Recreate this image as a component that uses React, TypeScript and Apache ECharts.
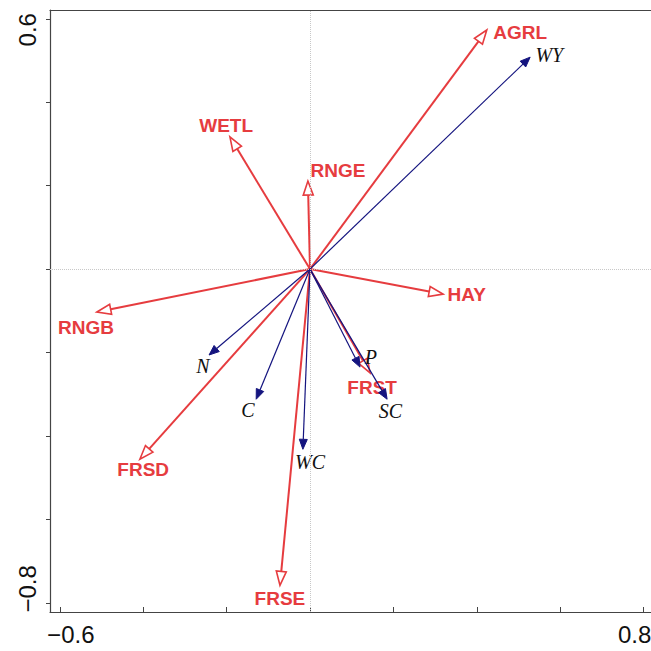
import React, { useEffect, useRef } from "react";
import * as echarts from "echarts";

// Environmental variables (red, open arrowheads)
const envNames = ["AGRL", "WETL", "RNGE", "HAY", "RNGB", "FRSD", "FRSE", "FRST"];
const envX = [0.424, -0.192, -0.005, 0.319, -0.511, -0.408, -0.072, 0.144];
const envY = [0.573, 0.317, 0.211, -0.06, -0.103, -0.456, -0.758, -0.249];
const envLabelX = [0.504, -0.201, 0.067, 0.376, -0.537, -0.4, -0.072, 0.149];
const envLabelY = [0.566, 0.343, 0.237, -0.062, -0.141, -0.48, -0.789, -0.283];

// Species / response variables (navy, filled arrowheads)
const spNames = ["WY", "N", "C", "WC", "P", "SC"];
const spX = [0.528, -0.242, -0.129, -0.017, 0.12, 0.185];
const spY = [0.508, -0.206, -0.312, -0.432, -0.235, -0.312];
const spLabelX = [0.574, -0.257, -0.149, 0.0, 0.146, 0.193];
const spLabelY = [0.513, -0.233, -0.338, -0.463, -0.211, -0.341];

const xTicks = [-0.6, -0.4, -0.2, 0, 0.2, 0.4, 0.6, 0.8];
const yTicks = [0.6, 0.4, 0.2, 0, -0.2, -0.4, -0.6, -0.8];
const xLabels = [-0.6, 0.8];
const yLabels = [0.6, -0.8];

const RED = "#e63c3f";
const NAVY = "#14147f";
const AXIS = "#444444";

const num = (v: number) => (v < 0 ? "\u2212" + Math.abs(v).toFixed(1) : v.toFixed(1));

function makeRender(names: string[], kind: "env" | "sp") {
  return (params: any, api: any) => {
    const x = api.value(0);
    const y = api.value(1);
    const lx = api.value(2);
    const ly = api.value(3);
    const o = api.coord([0, 0]);
    const t = api.coord([x, y]);
    const l = api.coord([lx, ly]);
    const dx = t[0] - o[0];
    const dy = t[1] - o[1];
    const len = Math.hypot(dx, dy) || 1;
    const ux = dx / len;
    const uy = dy / len;
    const nx = -uy;
    const ny = ux;
    const L = kind === "env" ? 14 : 10;
    const W = kind === "env" ? 5 : 4;
    const bx = t[0] - ux * L;
    const by = t[1] - uy * L;
    const color = kind === "env" ? RED : NAVY;
    return {
      type: "group",
      children: [
        {
          type: "line",
          shape: { x1: o[0], y1: o[1], x2: bx, y2: by },
          style: { stroke: color, lineWidth: kind === "env" ? 2 : 1.2 },
        },
        {
          type: "polygon",
          shape: {
            points: [
              [t[0], t[1]],
              [bx + nx * W, by + ny * W],
              [bx - nx * W, by - ny * W],
            ],
          },
          style:
            kind === "env"
              ? { fill: "#ffffff", stroke: color, lineWidth: 1.6 }
              : { fill: color, stroke: color, lineWidth: 1 },
        },
        {
          type: "text",
          x: l[0],
          y: l[1],
          style: {
            text: names[params.dataIndex],
            fill: kind === "env" ? RED : "#111111",
            fontSize: kind === "env" ? 19 : 20,
            fontWeight: kind === "env" ? "bold" : "normal",
            fontStyle: kind === "env" ? "normal" : "italic",
            fontFamily:
              kind === "env"
                ? "'Liberation Sans', Arial, sans-serif"
                : "'Liberation Serif', 'Times New Roman', serif",
            align: "center",
            verticalAlign: "middle",
          },
        },
      ],
    };
  };
}

export default function App() {
  const ref = useRef<HTMLDivElement>(null);
  useEffect(() => {
    document.documentElement.style.overflow = "hidden";
    document.body.style.margin = "0";
    document.body.style.overflow = "hidden";
    const chart = echarts.init(ref.current!, null, { renderer: "svg", width: 720, height: 651 });
    const axisFont = { fontSize: 24, color: "#111", fontFamily: "'Liberation Sans', Arial, sans-serif" };
    chart.setOption({
      animation: false,
      backgroundColor: "#ffffff",
      grid: {
        left: 50,
        top: 10,
        right: 51,
        bottom: 39,
        show: false,
      },
      xAxis: [
        {
          type: "value",
          min: -0.6235,
          max: 0.861,
          splitLine: { show: false },
          axisLine: { show: true, onZero: false, lineStyle: { color: AXIS, width: 1.2 } },
          axisTick: { show: true, inside: true, length: 5, customValues: xTicks, lineStyle: { color: AXIS } },
          axisLabel: {
            ...axisFont,
            margin: 10,
            customValues: xLabels,
            formatter: (v: number) => (v < 0 ? "{lo|" + num(v) + "}" : "{hi|" + num(v) + "}"),
            rich: {
              lo: { ...axisFont, padding: [0, 0, 0, 22] },
              hi: { ...axisFont, padding: [0, 18, 0, 0] },
            },
          },
        },
        {
          type: "value",
          position: "top",
          min: -0.6235,
          max: 0.861,
          splitLine: { show: false },
          axisLine: { show: true, onZero: false, lineStyle: { color: AXIS, width: 1.2 } },
          axisTick: { show: false },
          axisLabel: { show: false },
        },
      ],
      yAxis: {
        type: "value",
        min: -0.822,
        max: 0.621,
        splitLine: { show: false },
        axisLine: { show: true, onZero: false, lineStyle: { color: AXIS, width: 1.2 } },
        axisTick: { show: true, length: 4, customValues: yTicks, lineStyle: { color: AXIS } },
        axisLabel: {
          ...axisFont,
          margin: 11,
          rotate: 90,
          customValues: yLabels,
          formatter: (v: number) => (v < 0 ? "{lo|" + num(v) + "}" : "{hi|" + num(v) + "}"),
          rich: {
            lo: { ...axisFont, padding: [0, 0, 0, 28] },
            hi: { ...axisFont, padding: [0, 22, 0, 0] },
          },
        },
      },
      series: [
        {
          type: "line",
          data: [],
          silent: true,
          z: 1,
          markLine: {
            silent: true,
            symbol: ["none", "none"],
            label: { show: false },
            lineStyle: { color: "#c8c8c8", type: "dotted", width: 1 },
            data: [{ xAxis: 0 }, { yAxis: 0 }],
          },
        },
        {
          type: "custom",
          name: "env",
          z: 3,
          clip: false,
          encode: { x: 0, y: 1 },
          renderItem: makeRender(envNames, "env"),
          data: envX.map((v, i) => [v, envY[i], envLabelX[i], envLabelY[i]]),
        },
        {
          type: "custom",
          name: "species",
          z: 4,
          clip: false,
          encode: { x: 0, y: 1 },
          renderItem: makeRender(spNames, "sp"),
          data: spX.map((v, i) => [v, spY[i], spLabelX[i], spLabelY[i]]),
        },
      ],
    });
    return () => chart.dispose();
  }, []);
  return (
    <div
      ref={ref}
      style={{ position: "fixed", left: 0, top: 0, width: 720, height: 651, overflow: "hidden" }}
    />
  );
}
